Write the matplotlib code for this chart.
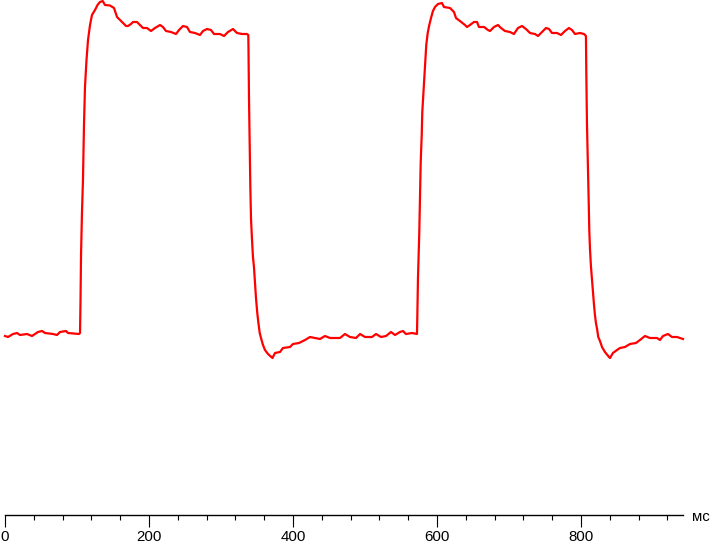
import matplotlib.pyplot as plt
from matplotlib.ticker import MultipleLocator

# time, ms
time_ms = [
    0, 4.2, 11.1, 16.7, 20.8, 30.6, 37.5, 45.8, 51.4, 55.6, 66.7, 72.2, 76.4, 84.7, 87.5, 102.8,
    104.2, 104.9, 105.6, 106.9, 108.3, 109.7, 111.1, 113.2, 115.3, 118.1, 120.8, 125.0, 128.5,
    131.9, 135.7, 138.9, 145.8, 151.4, 155.6, 159.7, 163.9, 168.1,
    170.8, 175.0, 177.8, 183.3, 187.5, 191.7, 197.2, 202.8, 208.3, 215.3, 219.4, 223.6, 230.6,
    237.5, 241.7, 247.2, 252.8, 256.9, 263.9, 270.8, 275.0, 280.6, 286.1, 290.3, 298.6, 304.2,
    309.7, 316.7, 322.2, 329.2, 336.1,
    337.9, 338.2, 338.9, 339.9, 340.7, 341.7, 343.1, 344.4, 345.8, 347.2, 348.6, 350.4, 351.8,
    353.8, 355.6, 358.3, 361.1, 365.3, 371.5, 375.0, 381.9, 386.1, 395.8, 400.0, 408.3,
    416.7, 423.6, 430.6, 437.5, 444.4, 451.4, 465.3, 472.2, 479.2, 487.5, 493.1, 500.0, 509.7,
    515.3, 522.2, 529.2, 536.1, 541.7, 548.6, 552.8, 556.9, 565.3, 572.2,
    572.6, 573.6, 575.4, 576.4, 577.4, 578.8, 579.6, 581.0, 582.4, 583.8, 585.1, 587.1, 589.3,
    591.7, 594.4, 597.2, 601.4, 606.9, 609.7, 618.1, 623.6, 626.4, 631.9,
    638.9, 641.7, 645.8, 651.4, 655.6, 658.3, 665.3, 670.8, 673.6, 679.2, 684.7, 688.9, 694.4,
    701.4, 706.9, 712.5, 718.1, 723.6, 729.2, 736.1, 740.3, 745.8, 751.4, 755.6, 759.7, 766.7,
    772.2, 777.8, 783.3, 787.5, 791.7, 798.6, 804.2, 806.9,
    807.4, 808.3, 809.7, 810.7, 811.5, 812.5, 813.9, 815.3, 816.7, 818.1, 819.4, 820.8, 822.6,
    824.0, 826.4, 829.2, 833.3, 838.9, 840.3, 844.4, 850.0, 854.2, 861.1, 868.1, 876.4, 881.9,
    888.9, 895.8, 905.6, 909.7, 913.9, 920.8, 926.4, 933.3, 941.7,
]

# brightness level (arbitrary units)
level = [
    179, 178, 181, 182, 180, 181, 179, 183, 184, 182, 181, 180, 183, 184, 182, 181,
    182, 215, 260, 302, 335, 390, 428, 455, 475, 490, 500, 505, 510,
    513, 514, 510, 509.5, 507, 498, 495, 492, 489,
    489, 491, 493, 493, 490, 487, 487, 484, 487, 490, 488, 484, 483,
    481, 485, 489, 488, 483, 482, 480, 484, 486, 485, 481, 481, 479,
    483, 486, 482, 481, 481,
    480, 466, 417, 369, 330, 296, 275, 258, 248, 233, 217, 202, 193,
    182, 177, 170, 165, 161, 157, 162, 163, 167, 168, 171, 172,
    175, 178, 177, 176, 179, 177, 177, 181, 178, 177, 181, 178, 178,
    181, 178, 179, 183, 180, 183, 184, 181, 182, 181,
    195, 237, 282, 320, 353, 380, 403, 420, 437, 453, 470, 482, 490,
    497, 504, 508, 511, 512, 508, 507, 503, 497, 494,
    490, 488, 490, 493, 493, 488, 488, 485, 484, 488, 490, 487, 484,
    483, 481, 487, 489, 486, 482, 481, 479, 483, 487, 486, 482, 482,
    480, 484, 487, 485, 481, 482, 481, 479,
    442, 392, 349, 314, 286, 266, 248, 235, 222, 210, 200, 192, 185,
    178, 174, 168, 163, 158, 157, 162, 165, 167, 168, 171, 172, 175,
    179, 177, 177, 175, 179, 181, 178, 178, 176,
]

fig = plt.figure(figsize=(7.11, 5.43), dpi=100)
ax = fig.add_axes([5 / 711, 28 / 543, 678 / 711, 515 / 543])

ax.plot(time_ms, level, color="#ff0000", linewidth=1.6, clip_on=False)

ax.set_xlim(0, 941.7)
ax.set_ylim(0, 515)

for side in ["left", "right", "top"]:
    ax.spines[side].set_visible(False)
ax.spines["bottom"].set_linewidth(1.0)
ax.set_yticks([])

ax.xaxis.set_major_locator(MultipleLocator(200))
ax.xaxis.set_minor_locator(MultipleLocator(40))
ax.tick_params(axis="x", which="major", length=8.5, width=0.8, pad=2.5,
               labelsize=10.8, direction="out")
ax.tick_params(axis="x", which="minor", length=3.5, width=0.8, direction="out")
for lbl in ax.get_xticklabels():
    lbl.set_family("Liberation Sans")

fig.text(692 / 711, (543 - 517) / 543, "мс", fontsize=10.8, family="Liberation Sans",
         ha="left", va="center")

fig.savefig("out.png", dpi=100)
plt.close()
